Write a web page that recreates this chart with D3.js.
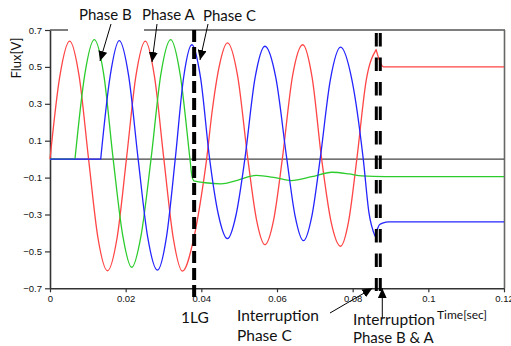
<!DOCTYPE html>
<html><head><meta charset="utf-8">
<script src="https://cdn.jsdelivr.net/npm/d3@7"></script>
<style>
html,body{margin:0;padding:0;background:#fff;overflow:hidden}
svg{display:block}
</style></head><body>
<svg id="chart" width="511" height="346"></svg>
<script>
// ---------------- data ----------------
const xTickValues = [0, 0.02, 0.04, 0.06, 0.08, 0.1, 0.12];
const xTickLabels = ["0", "0.02", "0.04", "0.06", "0.08", "0.1", "0.12"];
const yTickValues = [0.7, 0.5, 0.3, 0.1, -0.1, -0.3, -0.5, -0.7];
const yTickLabels = ["0.7", "0.5", "0.3", "0.1", "\u22120.1", "\u22120.3", "\u22120.5", "\u22120.7"];

// Phase A (red)
const phaseATime = [0, 0.0026, 0.0052, 0.0077, 0.0102, 0.0127, 0.0152, 0.0177, 0.0202, 0.0227, 0.0252, 0.0276, 0.0301,
  0.0326, 0.0350, 0.0381, 0.0403, 0.0414, 0.0428, 0.0447, 0.0469, 0.0496, 0.0523, 0.0546, 0.0568, 0.0591, 0.0614,
  0.0641, 0.0668, 0.0693, 0.0718, 0.0743, 0.0768, 0.0789, 0.0811, 0.0836, 0.0862, 0.0870, 0.0881, 0.1200];
const phaseAFlux = [0, 0.45, 0.64, 0.45, 0, -0.43, -0.605, -0.43, 0, 0.45, 0.64, 0.45, 0,
  -0.43, -0.607, -0.42, -0.16, 0, 0.25, 0.50, 0.63, 0.45, 0, -0.33, -0.463, -0.33, 0,
  0.45, 0.62, 0.44, 0, -0.34, -0.472, -0.34, 0, 0.43, 0.594, 0.54, 0.50, 0.50];
const phaseABreaks = [0.0862];

// Phase B (green)
const phaseBTime = [0, 0.0066, 0.0092, 0.0117, 0.0142, 0.0167, 0.0192, 0.0216, 0.0241, 0.0267, 0.0293, 0.0319, 0.0344,
  0.0370, 0.0375, 0.0380, 0.0410, 0.0452, 0.0495, 0.0545, 0.0595, 0.0638, 0.0692, 0.0745, 0.0790, 0.0824, 0.0886, 0.1200];
const phaseBFlux = [0, 0, 0.46, 0.648, 0.46, 0, -0.41, -0.586, -0.41, 0, 0.46, 0.648, 0.46,
  0, -0.09, -0.118, -0.128, -0.134, -0.115, -0.088, -0.100, -0.116, -0.095, -0.071, -0.080, -0.091, -0.095, -0.095];
const phaseBBreaks = [0.0066, 0.0380];

// Phase C (blue)
const phaseCTime = [0, 0.0134, 0.0159, 0.0183, 0.0208, 0.0233, 0.0258, 0.0284, 0.0308, 0.0331, 0.0353, 0.0375, 0.0398,
  0.0422, 0.0445, 0.0469, 0.0492, 0.0515, 0.0542, 0.0568, 0.0597, 0.0626, 0.0648, 0.0670, 0.0692, 0.0714, 0.0741,
  0.0768, 0.0798, 0.0828, 0.0843, 0.0859, 0.0866, 0.0871, 0.0881, 0.0895, 0.1200];
const phaseCFlux = [0, 0, 0.45, 0.642, 0.45, 0, -0.42, -0.602, -0.42, 0, 0.44, 0.62, 0.44,
  0, -0.30, -0.431, -0.30, 0, 0.44, 0.612, 0.44, 0, -0.31, -0.442, -0.31, 0, 0.43,
  0.607, 0.43, 0, -0.29, -0.417, -0.375, -0.355, -0.345, -0.34, -0.34];
const phaseCBreaks = [0.0134, 0.0859];

const seriesNames = ["Phase A", "Phase B", "Phase C"];
const seriesColors = ["#ff4545", "#2ccc2c", "#2424ff"];

// event times (1LG fault, interruption of C, interruption of B & A)
const faultTime = 0.0381;
const interruptCTime = 0.08625;
const interruptBATime = 0.0873;

// ---------------- chart ----------------
const svg = d3.select("#chart");
const x = d3.scaleLinear().domain([0, 0.12]).range([50, 504]);
const y = d3.scaleLinear().domain([-0.7, 0.7]).range([288.3, 30]);

const defs = svg.append("defs");
defs.append("marker").attr("id", "ah").attr("markerUnits", "userSpaceOnUse")
  .attr("markerWidth", 11).attr("markerHeight", 9).attr("refX", 10).attr("refY", 4.5)
  .attr("orient", "auto")
  .append("path").attr("d", "M0,0 L10,4.5 L0,9 Z").attr("fill", "#000");

// frame: top & right border
svg.append("line").attr("x1", x(0)).attr("x2", x(0.12) + 1).attr("y1", y(0.7)).attr("y2", y(0.7))
  .attr("stroke", "#555").attr("stroke-width", 1.5);
svg.append("line").attr("x1", x(0.12) + 0.5).attr("x2", x(0.12) + 0.5).attr("y1", y(0.7)).attr("y2", y(-0.7))
  .attr("stroke", "#666").attr("stroke-width", 1.6);
// white box behind the top labels (cuts the border)
svg.append("rect").attr("x", 68).attr("y", 0).attr("width", 76).attr("height", 33).attr("fill", "#fff");

// zero line
svg.append("line").attr("x1", x(0)).attr("x2", x(0.12)).attr("y1", y(0)).attr("y2", y(0))
  .attr("stroke", "#444").attr("stroke-width", 1.2);

// axes
const tickFont = "'Liberation Sans', Arial, sans-serif";
const yAxis = svg.append("g").attr("transform", `translate(${x(0)},0)`)
  .call(d3.axisLeft(y).tickValues(yTickValues).tickFormat((d, i) => yTickLabels[i]).tickSize(5).tickSizeOuter(0).tickPadding(3));
const xAxis = svg.append("g").attr("transform", `translate(0,${y(-0.7)})`)
  .call(d3.axisBottom(x).tickValues(xTickValues).tickFormat((d, i) => xTickLabels[i]).tickSize(4).tickSizeOuter(0).tickPadding(3));
[xAxis, yAxis].forEach(g => {
  g.select(".domain").attr("stroke", "#333").attr("stroke-width", 1.6);
  g.selectAll(".tick line").attr("stroke", "#333").attr("stroke-width", 1.2);
  g.selectAll(".tick text").attr("fill", "#111").style("font-family", tickFont).style("font-size", "9.5px");
});

// waveforms
function buildPath(times, vals, breaks) {
  const pts = times.map((t, i) => [t, vals[i]]);
  const pieces = [];
  let cur = [];
  pts.forEach(p => {
    cur.push(p);
    if (breaks.includes(p[0])) { pieces.push(cur); cur = [p]; }
  });
  if (cur.length > 1) pieces.push(cur);
  const line = d3.line().x(d => x(d[0])).y(d => y(d[1])).curve(d3.curveMonotoneX);
  return pieces.map((pc, i) => {
    const s = line(pc);
    return i === 0 ? s : s.replace(/^M/, "L");
  }).join("");
}
const series = [
  [phaseATime, phaseAFlux, phaseABreaks],
  [phaseBTime, phaseBFlux, phaseBBreaks],
  [phaseCTime, phaseCFlux, phaseCBreaks]
];
series.forEach((s, i) => {
  svg.append("path").attr("d", buildPath(s[0], s[1], s[2]))
    .attr("fill", "none").attr("stroke", seriesColors[i]).attr("stroke-width", 1.3)
    .attr("stroke-linejoin", "round");
});

// event dashed lines
svg.append("line").attr("x1", x(faultTime)).attr("x2", x(faultTime)).attr("y1", 30).attr("y2", 298)
  .attr("stroke", "#000").attr("stroke-width", 4).attr("stroke-dasharray", "12,5");
[interruptCTime, interruptBATime].forEach(t => {
  svg.append("line").attr("x1", x(t)).attr("x2", x(t)).attr("y1", 33).attr("y2", 291)
    .attr("stroke", "#000").attr("stroke-width", 3).attr("stroke-dasharray", "13.5,11");
});

// annotation texts
const annFont = "Lato, 'Open Sans', sans-serif";
const texts = [
  { t: "Phase B", x: 79, y: 20, s: 15 },
  { t: "Phase A", x: 142, y: 20, s: 15 },
  { t: "Phase C", x: 203, y: 21, s: 15 },
  { t: "1LG", x: 181, y: 323, s: 15.5 },
  { t: "Interruption", x: 237, y: 321, s: 15.5 },
  { t: "Phase C", x: 237, y: 341, s: 15.5 },
  { t: "Interruption", x: 353, y: 325, s: 15.5 },
  { t: "Phase B & A", x: 353, y: 343, s: 15 },
  { t: "Time[sec]", x: 437, y: 319, s: 12 }
];
texts.forEach(d => {
  svg.append("text").attr("x", d.x).attr("y", d.y).text(d.t)
    .style("font-family", annFont).style("font-size", d.s + "px").attr("fill", "#111");
});
svg.append("text").attr("transform", "translate(20.5,58) rotate(-90)").attr("text-anchor", "middle")
  .text("Flux[V]").style("font-family", annFont).style("font-size", "13px").attr("fill", "#111");

// arrows
const arrows = [
  [111, 24, 100, 61],
  [157, 24, 152, 62],
  [208, 24, 200, 60],
  [330, 313, x(interruptCTime) - 4, y(-0.7)],
  [x(interruptBATime) + 2, 318, x(interruptBATime) + 2, y(-0.7)]
];
arrows.forEach(a => {
  svg.append("line").attr("x1", a[0]).attr("y1", a[1]).attr("x2", a[2]).attr("y2", a[3])
    .attr("stroke", "#000").attr("stroke-width", 1).attr("marker-end", "url(#ah)");
});
</script>
</body></html>
